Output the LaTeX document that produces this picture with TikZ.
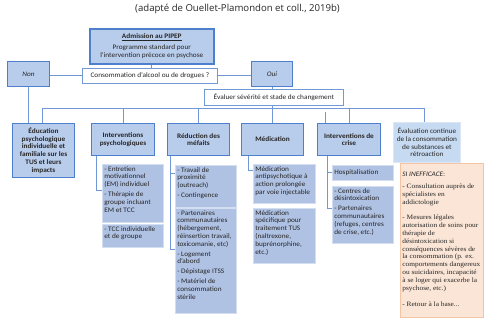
\documentclass[tikz,border=0pt]{standalone}
\usepackage{fontspec}
\setmainfont{Carlito}[FakeStretch=1.06]
\newfontfamily\titlefont{Open Sans}
\newfontfamily\serifb{Liberation Serif}[FakeStretch=1.1]
\definecolor{lineblue}{HTML}{7097D6}
\definecolor{darkblue}{HTML}{4E7FCC}
\definecolor{boxfill}{HTML}{B8CCEB}
\definecolor{subfill}{HTML}{AFC2E4}
\definecolor{subedge}{HTML}{D3DEF1}
\definecolor{evcfill}{HTML}{C6DAF1}
\definecolor{evcedge}{HTML}{DCE7F5}
\definecolor{peach}{HTML}{FBE5D6}
\definecolor{peachedge}{HTML}{F5C4A2}
\definecolor{textc}{HTML}{262626}
\newcommand\bx[8]{%
  \node[#1,anchor=north west,inner sep=2pt] (#2) at (#3,#4)
    {\parbox[c][\dimexpr#6pt-#4pt-4pt\relax][#7]{\dimexpr#5pt-#3pt-4pt\relax}{#8}};}
\newcommand\fs{\fontsize{6.9}{7.8}\selectfont}
\begin{document}
\begin{tikzpicture}[x=1pt,y=-1pt,
  conn/.style={draw=lineblue,line width=1pt},
  colbox/.style={draw=darkblue,line width=1pt,fill=boxfill,text=textc,font=\fs\bfseries},
  decbox/.style={draw=darkblue,line width=1pt,fill=boxfill,text=textc,font=\fs\itshape},
  admbox/.style={draw=darkblue,line width=1.6pt,fill=boxfill,text=textc,font=\fs},
  qbox/.style={draw=darkblue!80,line width=0.8pt,fill=white,text=textc,font=\fs},
  subbox/.style={draw=subedge,line width=0.6pt,fill=subfill,text=textc,font=\fs},
  evcbox/.style={draw=evcedge,line width=0.8pt,fill=evcfill,text=textc,font=\fs},
  inefbox/.style={draw=peachedge,line width=0.8pt,fill=peach,text=textc,font=\serifb\fontsize{6.7}{7.9}\selectfont},
  titletext/.style={text=textc,font=\titlefont\fontsize{9.6}{11}\selectfont}]
\useasboundingbox (0,0) rectangle (494,326);
\node[titletext] (title) at (237.5,9) {(adapté de Ouellet-Plamondon et coll., 2019b)};

\bx{admbox}{adm}{89}{28}{213}{63}{c}{\centering\underline{\textbf{Admission au PIPEP}}\\[3pt]Programme standard pour\\l'intervention précoce en psychose}
\bx{decbox}{non}{7}{61}{49}{86}{c}{\centering Non}
\bx{decbox}{oui}{251}{61}{292}{86}{c}{\centering Oui}
\bx{qbox}{cons}{82}{68}{217}{83}{c}{\centering Consommation d'alcool ou de drogues ?}
\bx{qbox}{eval}{204}{89}{343}{105}{c}{\centering Évaluer sévérité et stade de changement}

\bx{colbox}{edu}{12}{123}{74}{177}{c}{\centering Éducation\\psychologique\\individuelle et\\familiale sur les\\TUS et leurs\\impacts}
\bx{colbox}{psy}{91}{123}{154}{155}{c}{\centering Interventions\\psychologiques}
\bx{colbox}{red}{167}{123}{229}{155}{c}{\centering Réduction des\\méfaits}
\bx{colbox}{med}{241}{123}{303}{155}{c}{\centering Médication}
\bx{colbox}{cri}{317}{123}{380}{155}{c}{\centering Interventions de\\crise}
\bx{evcbox}{evc}{393}{122}{460}{162}{c}{\centering Évaluation continue\\de la consommation\\de substances et\\rétroaction}

\bx{subbox}{psy1}{102}{164}{163}{222}{t}{\raggedright - Entretien\\motivationnel\\(EM) individuel\\[2pt]- Thérapie de\\groupe incluant\\EM et TCC}
\bx{subbox}{psy2}{102}{224}{163}{247}{t}{\raggedright - TCC individuelle\\et de groupe}
\bx{subbox}{red1}{175}{165}{236}{207}{t}{\raggedright - Travail de\\proximité\\(outreach)\\[2pt]- Contingence}
\bx{subbox}{red2}{175}{208}{236}{313}{t}{\raggedright - Partenaires\\communautaires\\(hébergement,\\réinsertion travail,\\toxicomanie, etc)\\[2pt]- Logement\\d'abord\\[2pt]- Dépistage ITSS\\[2pt]- Matériel de\\consommation\\stérile}
\bx{subbox}{med1}{253}{164}{315}{203}{t}{\raggedright Médication\\antipsychotique à\\action prolongée\\par voie injectable}
\bx{subbox}{med2}{253}{208}{315}{263}{t}{\raggedright Médication\\spécifique pour\\traitement TUS\\(naltrexone,\\buprénorphine,\\etc.)}
\bx{subbox}{cri1}{332}{165}{393}{180}{c}{\raggedright Hospitalisation}
\bx{subbox}{cri2}{332}{186}{393}{243}{t}{\raggedright - Centres de\\désintoxication\\[2pt]- Partenaires\\communautaires\\(refuges, centres\\de crise, etc.)}
\bx{inefbox}{inef}{400}{163}{483}{317}{t}{\raggedright\vspace*{7pt}{\rmfamily\fs\itshape SI INEFFICACE}:\\[4pt]- Consultation auprès de\\spécialistes en\\addictologie\\[7pt]- Mesures légales\\autorisation de soins pour\\thérapie de\\désintoxication si\\conséquences sévères de\\la consommation (p. ex.\\comportements dangereux\\ou suicidaires, incapacité\\à se loger qui exacerbe la\\psychose, etc.)\\[8pt]- Retour à la base...}

% connectors
\draw[conn] (adm.south) -- (adm.south |- cons.north);
\draw[conn] (cons.west) -- (cons.west -| non.east);
\draw[conn] (cons.east) -- (cons.east -| oui.west);
\draw[conn] (oui.south) -- (oui.south |- eval.north);
\draw[conn] (non.south) -- (non.south |- edu.north);
\coordinate (busL) at (42,108);
\coordinate (busR) at (424,108);
\draw[conn] (busL) -- (busR);
\draw[conn] (eval.south -| oui.south) -- (med.north -| oui.south);
\draw[conn] (busL) -- (busL |- edu.north);
\draw[conn] (psy.north |- busL) -- (psy.north);
\draw[conn] (red.north |- busL) -- (red.north);
\draw[conn] (cri.north |- busL) -- (cri.north);
\draw[conn] (busR) -- (busR |- evc.north);
\coordinate (stray) at (325,112);
\draw[conn] (stray) -- (stray |- cri.north);

\coordinate (bp) at (96,190);
\draw[conn] (bp |- psy.south) -- (bp) -- (bp -| psy1.west);
\coordinate (br) at (170,249);
\coordinate (br1) at (170,173);
\draw[conn] (br |- red.south) -- (br) -- (br -| red2.west);
\draw[conn] (br1) -- (br1 -| red1.west);
\coordinate (bm) at (248,170);
\draw[conn] (bm |- med.south) -- (bm) -- (bm -| med1.west);
\coordinate (bc) at (327,208);
\coordinate (bc1) at (327,172);
\draw[conn] (bc |- cri.south) -- (bc) -- (bc -| cri2.west);
\draw[conn] (bc1) -- (bc1 -| cri1.west);
\end{tikzpicture}
\end{document}
